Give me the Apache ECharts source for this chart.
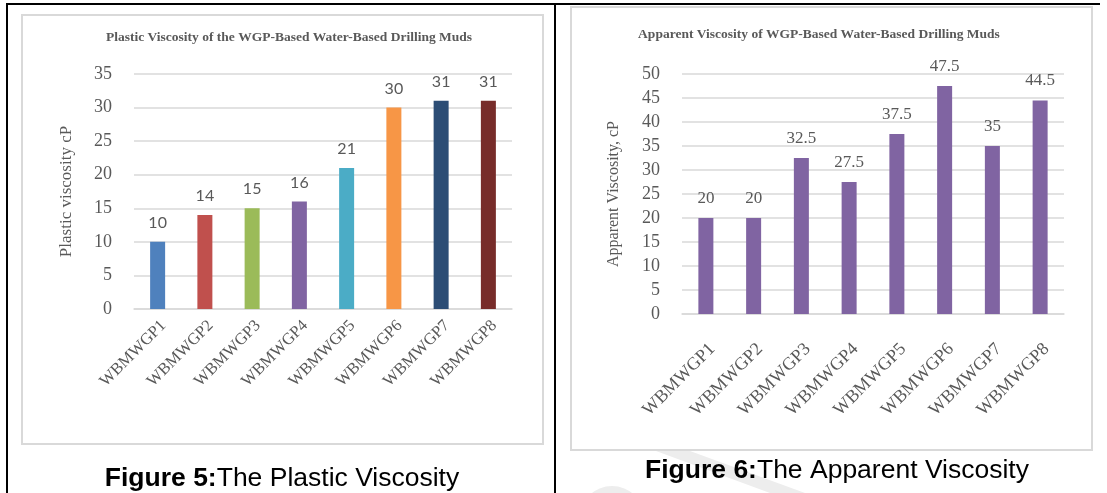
<!DOCTYPE html>
<html>
<head>
<meta charset="utf-8">
<title>Viscosity of WGP-Based Water-Based Drilling Muds</title>
<script src="https://cdn.jsdelivr.net/npm/echarts@6/dist/echarts.min.js"></script>
<style>
  html, body { margin: 0; padding: 0; background: #ffffff; }
  #chart { width: 1107px; height: 493px; }
</style>
</head>
<body>
<div id="chart"></div>
<script>
// Mud samples along the x axis of both panels
const categories = ['WBMWGP1', 'WBMWGP2', 'WBMWGP3', 'WBMWGP4', 'WBMWGP5', 'WBMWGP6', 'WBMWGP7', 'WBMWGP8'];

// Plastic viscosity, cP (left panel)
const plasticViscosity = [10, 14, 15, 16, 21, 30, 31, 31];

// Apparent viscosity, cP (right panel)
const apparentViscosity = [20, 20, 32.5, 27.5, 37.5, 47.5, 35, 44.5];

// One colour per sample in the left panel, a single purple on the right
const plasticColors = ['#4F81BD', '#C0504D', '#9BBB59', '#8064A2', '#4BACC6', '#F79646', '#2C4D75', '#772C2A'];
const apparentColor = '#8064A2';

// Panel headings and captions
const plasticTitle = 'Plastic Viscosity of the WGP-Based Water-Based Drilling Muds';
const apparentTitle = 'Apparent Viscosity of WGP-Based Water-Based Drilling Muds';
const plasticAxisName = 'Plastic viscosity cP';
const apparentAxisName = 'Apparent Viscosity, cP';
const plasticCaption = ['Figure 5:', 'The Plastic Viscosity'];
const apparentCaption = ['Figure 6:', 'The Apparent Viscosity'];

const SERIF = '"Liberation Serif", "Times New Roman", serif';
const SANS = '"Liberation Sans", Arial, sans-serif';
const TEXT = '#595959';
const GRID_LINE = '#D9D9D9';

const chart = echarts.init(document.getElementById('chart'), null, { renderer: 'canvas' });

function xAxisFor(gridIndex, fontSize, margin) {
  return {
    type: 'category',
    gridIndex: gridIndex,
    data: categories,
    axisTick: { show: false },
    axisLine: { show: true, lineStyle: { color: GRID_LINE, width: 1.5 } },
    axisLabel: {
      rotate: 45,
      margin: margin,
      interval: 0,
      verticalAlign: 'top',
      color: TEXT,
      fontFamily: SERIF,
      fontSize: fontSize
    }
  };
}

function yAxisFor(gridIndex, max, name, gap, nameSize) {
  return {
    type: 'value',
    gridIndex: gridIndex,
    min: 0,
    max: max,
    interval: 5,
    name: name,
    nameLocation: 'middle',
    nameRotate: 90,
    nameGap: gap,
    nameTextStyle: { color: TEXT, fontFamily: SERIF, fontSize: nameSize },
    axisLine: { show: false },
    axisTick: { show: false },
    axisLabel: { color: TEXT, fontFamily: SERIF, fontSize: 18, margin: 22 },
    splitLine: { show: true, lineStyle: { color: GRID_LINE, width: 1.5 } }
  };
}

function caption(x, y, parts) {
  return {
    type: 'text', silent: true, x: x, y: y, z: 10,
    style: {
      text: '{b|' + parts[0] + '}{n|' + parts[1] + '}',
      align: 'center', verticalAlign: 'middle',
      rich: {
        b: { fontFamily: SANS, fontWeight: 'bold', fontSize: 26.5, fill: '#000' },
        n: { fontFamily: SANS, fontSize: 26.5, fill: '#000' }
      }
    }
  };
}

const titleStyle = { fontFamily: SERIF, fontWeight: 'bold', fontSize: 13.5, color: TEXT };

const option = {
  animation: false,
  backgroundColor: '#ffffff',
  title: [
    { text: plasticTitle, left: 284, top: 26, textAlign: 'center', textStyle: titleStyle },
    { text: apparentTitle, left: 814, top: 23, textAlign: 'center', textStyle: titleStyle }
  ],
  grid: [
    { left: 134, right: 595, top: 74, bottom: 184 },
    { left: 682, right: 43, top: 74, bottom: 179 }
  ],
  xAxis: [xAxisFor(0, 16.5, 8), xAxisFor(1, 18, 26)],
  yAxis: [
    yAxisFor(0, 35, plasticAxisName, 59, 17),
    yAxisFor(1, 50, apparentAxisName, 60, 16)
  ],
  series: [
    {
      type: 'bar',
      xAxisIndex: 0, yAxisIndex: 0,
      barWidth: 15,
      data: plasticViscosity.map((v, i) => ({ value: v, itemStyle: { color: plasticColors[i] } })),
      label: {
        show: true, position: 'top', distance: 11,
        color: TEXT, fontFamily: 'Lato, "Open Sans", sans-serif', fontSize: 16
      }
    },
    {
      type: 'bar',
      xAxisIndex: 1, yAxisIndex: 1,
      barWidth: 15,
      data: apparentViscosity,
      itemStyle: { color: apparentColor },
      label: {
        show: true, position: 'top', distance: 11,
        color: TEXT, fontFamily: SERIF, fontSize: 17
      }
    }
  ],
  graphic: [
    // faint page watermark fragments under the right caption
    { type: 'polygon', silent: true, z: -2, shape: { points: [[656, 451], [690, 451], [805, 493], [770, 493]] }, style: { fill: '#ededed' } },
    { type: 'circle', silent: true, z: -2, shape: { cx: 612, cy: 518, r: 32 }, style: { fill: '#ededed' } },
    // table rules around the two figures
    { type: 'line', silent: true, shape: { x1: 6, y1: 4, x2: 1100, y2: 4 }, style: { stroke: '#000', lineWidth: 2 } },
    { type: 'line', silent: true, shape: { x1: 7, y1: 3, x2: 7, y2: 493 }, style: { stroke: '#000', lineWidth: 2 } },
    { type: 'line', silent: true, shape: { x1: 555, y1: 3, x2: 555, y2: 493 }, style: { stroke: '#000', lineWidth: 2 } },
    // chart frames
    { type: 'rect', silent: true, z: -1, shape: { x: 22, y: 15, width: 521, height: 429 }, style: { fill: 'none', stroke: GRID_LINE, lineWidth: 2 } },
    { type: 'rect', silent: true, z: -1, shape: { x: 571, y: 7, width: 521, height: 443 }, style: { fill: '#ffffff', stroke: GRID_LINE, lineWidth: 2 } },
    // captions
    caption(282, 479, plasticCaption),
    caption(837, 471, apparentCaption)
  ]
};

chart.setOption(option);
</script>
</body>
</html>
